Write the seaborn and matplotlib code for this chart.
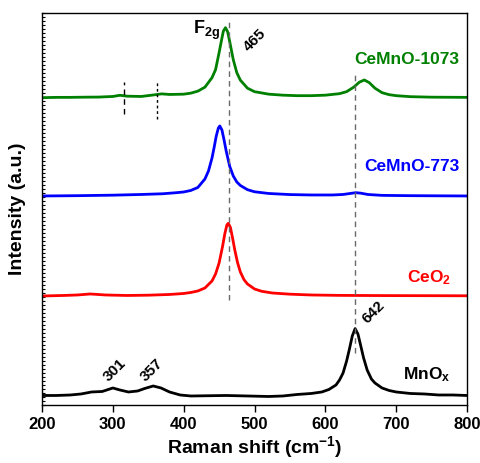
import pandas as pd
import matplotlib
matplotlib.use("Agg")
import matplotlib.pyplot as plt
from matplotlib.ticker import MultipleLocator, NullLocator
import seaborn as sns

# Raman spectra (intensity above each baseline, a.u.)
shift_1073 = [200, 220, 240, 260, 280, 300, 310, 320, 340, 355, 369, 380, 400, 410, 420, 430,
              440, 445, 450, 453, 456, 459, 462, 465, 470, 475, 480, 490, 500, 520, 540, 560,
              580, 600, 620, 630, 640, 648, 655, 662, 670, 680, 690, 700, 720, 750, 800]
int_1073 = [0, 0.3, 0.3, 0.5, 0.6, 1.2, 2.4, 1.5, 1.2, 2.5, 3.8, 3.2, 3.5, 4.5, 6.5, 10.5,
            20, 28, 45, 56, 66.5, 70, 66, 56, 38, 25, 17.5, 9.5, 6, 3.5, 2.5, 2,
            2, 2.5, 4, 6, 10.5, 15.5, 17.7, 15, 9.5, 5, 3, 2, 1, 0.5, 0.3]

shift_773 = [200, 250, 300, 340, 370, 390, 400, 410, 420, 430, 435, 440, 443, 446, 449, 451,
             454, 457, 460, 465, 470, 475, 480, 490, 500, 520, 550, 580, 610, 625, 635, 643,
             650, 660, 680, 720, 800]
int_773 = [0, 0.3, 0.8, 1.5, 2.2, 3.3, 4, 5.5, 8.5, 17, 25, 38, 48.6, 60, 68, 70,
           66, 56, 45, 29.6, 20, 14, 10.5, 6.3, 4.2, 2.5, 1.4, 1, 1, 1.5, 2.5, 3.3,
           2.8, 1.5, 0.6, 0.3, 0]

shift_ceo2 = [200, 230, 250, 268, 290, 320, 350, 380, 400, 410, 420, 430, 440, 445, 450, 455,
              458, 461, 463, 466, 469, 472, 476, 480, 485, 490, 500, 510, 525, 550, 580, 620,
              680, 740, 800]
int_ceo2 = [0, 0.5, 1, 2, 1, 0.5, 0.8, 1.5, 2.5, 3.5, 5, 8, 15, 22, 33, 50,
            62, 71, 72.7, 68.5, 58, 46.5, 33.5, 24, 16.5, 12, 7, 4.7, 3, 1.8, 1, 0.6,
            0.4, 0.3, 0.2]

shift_mnox = [200, 220, 240, 255, 270, 285, 300, 310, 322, 335, 345, 357, 368, 380, 395, 410,
              430, 460, 490, 520, 540, 560, 580, 595, 605, 615, 620, 625, 630, 634, 638, 642,
              646, 650, 654, 659, 665, 670, 680, 690, 700, 720, 740, 760, 780, 800]
int_mnox = [1.5, 1.5, 2, 3, 5, 5.5, 9, 7, 5, 6, 8.5, 11, 9, 5, 2, 1,
            1.2, 1.5, 1, 0.5, 1, 2.5, 3.5, 5, 7.5, 12, 17, 24, 36, 48, 61, 68.4,
            63, 51, 39, 27, 18, 14, 9, 6.5, 5, 3.5, 3, 2, 2, 1.5]

samples = ["CeMnO-1073", "CeMnO-773", "CeO$_2$", "MnO$_x$"]
colors = ["#008000", "#0000ff", "#ff0000", "#000000"]
offsets = [307.3, 209, 109, 8]

sns.set_style("ticks")
plt.rcParams["font.family"] = ["Liberation Sans", "DejaVu Sans"]
plt.rcParams["font.weight"] = "bold"
plt.rcParams["mathtext.fontset"] = "custom"
plt.rcParams["mathtext.rm"] = "Liberation Sans:bold"
plt.rcParams["mathtext.bf"] = "Liberation Sans:bold"
plt.rcParams["mathtext.default"] = "bf"
for k in ["text.color", "axes.labelcolor", "xtick.color", "ytick.color", "axes.edgecolor"]:
    plt.rcParams[k] = "black"

fig, ax = plt.subplots(figsize=(4.8, 4.63), dpi=100)
fig.subplots_adjust(left=0.0875, right=0.973, bottom=0.1253, top=0.972)

spectra = [(shift_1073, int_1073), (shift_773, int_773), (shift_ceo2, int_ceo2), (shift_mnox, int_mnox)]
for (x, y), name, c, off in zip(spectra, samples, colors, offsets):
    df = pd.DataFrame({"shift": x, "intensity": [v + off for v in y]})
    sns.lineplot(data=df, x="shift", y="intensity", color=c, lw=2, ax=ax)

# reference lines
ax.vlines(464, 105, 384, colors="dimgray", linestyles=(0, (4, 3)), lw=1)
ax.vlines(642, 52, 330, colors="dimgray", linestyles=(0, (4, 3)), lw=1)
ax.vlines(316, 291, 323, colors="black", linestyles=(0, (4, 3)), lw=1)
ax.vlines(362, 286, 323, colors="black", linestyles=(0, (2, 2)), lw=1)

# sample labels
ax.text(789, 345, "CeMnO-1073", color=colors[0], fontsize=12.5, fontweight="bold", ha="right", va="center")
ax.text(789, 238, "CeMnO-773", color=colors[1], fontsize=12.5, fontweight="bold", ha="right", va="center")
ax.text(777, 127, "CeO$_2$", color=colors[2], fontsize=12.5, fontweight="bold", ha="right", va="center")
ax.text(777, 30, "MnO$_x$", color=colors[3], fontsize=12.5, fontweight="bold", ha="right", va="center")

# peak annotations
ax.text(452, 375, "F$_{2g}$", fontsize=13, fontweight="bold", ha="right", va="center")
ax.text(501, 365, "465", fontsize=11, fontweight="bold", rotation=45, ha="center", va="center")
ax.text(668, 93, "642", fontsize=11, fontweight="bold", rotation=45, ha="center", va="center")
ax.text(303, 35, "301", fontsize=11, fontweight="bold", rotation=45, ha="center", va="center")
ax.text(355, 35, "357", fontsize=11, fontweight="bold", rotation=45, ha="center", va="center")

ax.set_xlim(200, 800)
ax.set_ylim(0, 392)
ax.xaxis.set_major_locator(MultipleLocator(100))
ax.yaxis.set_major_locator(NullLocator())
ax.yaxis.set_minor_locator(MultipleLocator(4))
ax.tick_params(axis="x", direction="out", length=5, width=1, labelsize=12)
ax.tick_params(axis="y", which="minor", direction="in", length=2, width=0.8)
for lbl in ax.get_xticklabels():
    lbl.set_fontweight("bold")

ax.set_xlabel("Raman shift (cm$^{-1}$)", fontsize=14, fontweight="bold", labelpad=2)
ax.set_ylabel("Intensity (a.u.)", fontsize=14, fontweight="bold", labelpad=8)
for s in ax.spines.values():
    s.set_linewidth(1)
    s.set_color("black")

fig.savefig("out.png", dpi=100)
